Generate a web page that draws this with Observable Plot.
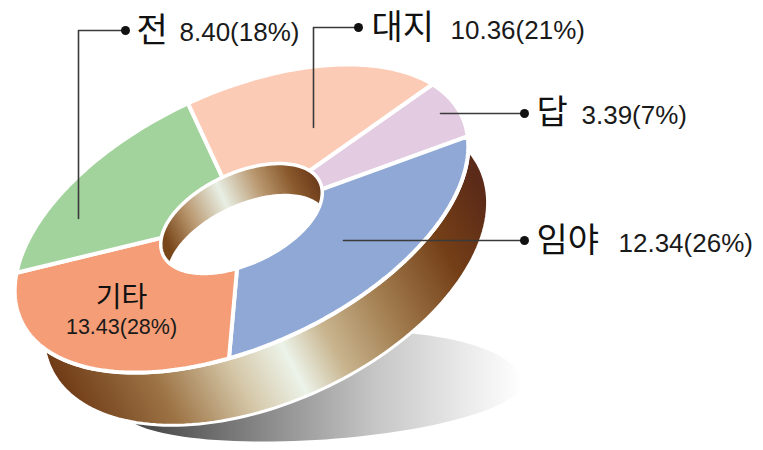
<!DOCTYPE html>
<html><head><meta charset="utf-8">
<style>html,body{margin:0;padding:0;background:#fff}svg{display:block}</style>
<script src="https://cdn.jsdelivr.net/npm/d3@7"></script>
<script src="https://cdn.jsdelivr.net/npm/@observablehq/plot@0.6"></script>
</head><body><div id="chart"></div>
<script>
// data, clockwise from the 대지 slice
const names   = ["대지", "답", "임야", "기타", "전"];
const values  = [10.36, 3.39, 12.34, 13.43, 8.40];
const shares  = [21, 7, 26, 28, 18];
const colors  = ["#fccbb5", "#e3cbe1", "#8fa8d5", "#f49d76", "#a3d39c"];
// slice sweeps as actually drawn in the picture (degrees on the tilted disc)
const sweeps  = [28.4, 97.4, 94.2, 69, 71];
const sweepNames = ["답", "임야", "기타", "전", "대지"];
const startAngle = -19;

// disc geometry
const cx = 241, cy = 218, rx = 243, ry = 127, tilt = -24.9 * Math.PI / 180, holeR = 0.355;
const wallShift = [6, 30];
const pt = (deg, r = 1, s = [0, 0], fx = 1, fy = 1) => {
  const t = deg * Math.PI / 180, u = rx * r * fx * Math.cos(t), v = ry * r * fy * Math.sin(t);
  return [cx + u * Math.cos(tilt) - v * Math.sin(tilt) + s[0], cy + u * Math.sin(tilt) + v * Math.cos(tilt) + s[1]];
};
const ring = (r, s, fx, fy) => d3.range(0, 361, 2).map(a => pt(a, r, s, fx, fy));

let a0 = startAngle;
const slices = sweepNames.flatMap((name, i) => {
  const a1 = a0 + sweeps[i], p = [];
  for (let a = a0; a < a1; a += 1) p.push(pt(a));
  p.push(pt(a1));
  for (let a = a1; a > a0; a -= 1) p.push(pt(a, holeR));
  p.push(pt(a0, holeR), pt(a0));
  a0 = a1;
  return p.map(([x, y]) => ({name, x, y}));
});

const hole = ring(holeR), holeLow = ring(holeR, wallShift);
const inter = [...hole.filter(p => d3.polygonContains(holeLow, p)), ...holeLow.filter(p => d3.polygonContains(hole, p))];
const ic = [d3.mean(inter, p => p[0]), d3.mean(inter, p => p[1])];
inter.sort((p, q) => Math.atan2(p[1] - ic[1], p[0] - ic[0]) - Math.atan2(q[1] - ic[1], q[0] - ic[0]));
inter.push(inter[0]);

// side of the disc: a slightly rounder ellipse pushed down
const side = ring(1, [24, 50], 0.975, 1.05);

// shadow outline
const shadow = d3.range(0, 361, 3).map(a => {
  const t = a * Math.PI / 180, u = 200 * Math.cos(t), v = (Math.sin(t) > 0 ? 43 : 64) * Math.sin(t), k = -4 * Math.PI / 180;
  return [322 + u * Math.cos(k) - v * Math.sin(k), 396 + u * Math.sin(k) + v * Math.cos(k)];
});

// annotation layout
const leaders = [
  {name: "전",   path: [[78, 218], [78, 30], [125, 30]]},
  {name: "대지", path: [[313, 127], [313, 27], [358, 27]]},
  {name: "답",   path: [[440, 113], [524, 113]]},
  {name: "임야", path: [[343, 240], [524, 240]]}
];
const leaderPts = leaders.flatMap(l => l.path.map(([x, y]) => ({name: l.name, x, y})));
const dots = leaders.map(l => { const e = l.path[l.path.length - 1]; return {x: e[0], y: e[1]}; });
const labelPos = {"전": [136, 31, 179, 32], "대지": [371, 28, 450, 30], "답": [536, 113, 581, 115], "임야": [536, 241, 618, 243]};
const outside = ["전", "대지", "답", "임야"];
const valueText = n => { const i = names.indexOf(n); return `${values[i].toFixed(2)}(${shares[i]}%)`; };

function stops(id, coords, list) {
  const g = d3.create("svg:linearGradient").attr("id", id).attr("gradientUnits", "userSpaceOnUse");
  Object.entries(coords).forEach(([k, v]) => g.attr(k, v));
  list.forEach(([o, c]) => g.append("stop").attr("offset", o).attr("stop-color", c));
  return g.node();
}
const defs = () => {
  const d = d3.create("svg:defs").node();
  d.append(
    stops("band", {x1: 96, y1: 468, x2: 513, y2: 248}, [[0, "#6b3612"], [0.2, "#9d7445"], [0.355, "#d5c7a8"], [0.47, "#ecf3e9"], [0.565, "#c8b48e"], [0.71, "#a07a4c"], [0.87, "#743f17"], [1, "#5b2a18"]]),
    stops("wall", {x1: 165, y1: 238, x2: 322, y2: 165}, [[0, "#784619"], [0.18, "#b9976f"], [0.4, "#e8efe4"], [0.62, "#b9976f"], [0.8, "#8a5a2d"], [1, "#5f2d12"]]),
    stops("shade", {x1: 155, y1: 400, x2: 522, y2: 400}, [[0, "#4d4d4d"], [0.3, "#8a8a8a"], [0.6, "#c6c6c6"], [0.85, "#ebebeb"], [1, "#ffffff"]])
  );
  return d;
};
const poly = (p, o) => Plot.line(p, {x: d => d[0], y: d => d[1], curve: "linear", ...o});
const latin = "Liberation Sans, Arial, sans-serif", cjk = "Noto Sans CJK KR, sans-serif";

const plot = Plot.plot({
  width: 763, height: 450, margin: 0,
  x: {domain: [0, 763], range: [0, 763], axis: null},
  y: {domain: [0, 450], range: [0, 450], axis: null},
  color: {domain: names, range: colors},
  style: {background: "#fff"},
  marks: [
    defs,
    poly(shadow, {fill: "url(#shade)", stroke: "none"}),
    poly(side, {fill: "url(#band)", stroke: "#fff", strokeWidth: 3}),
    poly(ring(1), {fill: "#fff", stroke: "#fff", strokeWidth: 4}),
    Plot.line(slices, {x: "x", y: "y", z: "name", fill: "name", stroke: "#fff", strokeWidth: 4, strokeLinejoin: "miter", curve: "linear"}),
    poly(hole, {fill: "url(#wall)", stroke: "#fff", strokeWidth: 3}),
    poly(inter, {fill: "#fff", stroke: "none"}),
    Plot.line(leaderPts, {x: "x", y: "y", z: "name", stroke: "#3a3a3a", strokeWidth: 1.6, curve: "linear"}),
    Plot.dot(dots, {x: "x", y: "y", r: 4.5, fill: "#111", stroke: "none"}),
    Plot.text(outside, {x: n => labelPos[n][0], y: n => labelPos[n][1], text: n => n, textAnchor: "start", fontFamily: cjk, fontSize: 34, fill: "#111"}),
    Plot.text(outside, {x: n => labelPos[n][2], y: n => labelPos[n][3], text: valueText, textAnchor: "start", fontFamily: latin, fontSize: 26, fill: "#1a1a1a"}),
    Plot.text(["기타"], {x: 121, y: 298, text: n => n, fontFamily: cjk, fontSize: 28, fill: "#111"}),
    Plot.text(["기타"], {x: 121, y: 327, text: valueText, fontFamily: latin, fontSize: 21.5, fill: "#1a1a1a"})
  ]
});
document.getElementById("chart").append(plot);
</script></body></html>
